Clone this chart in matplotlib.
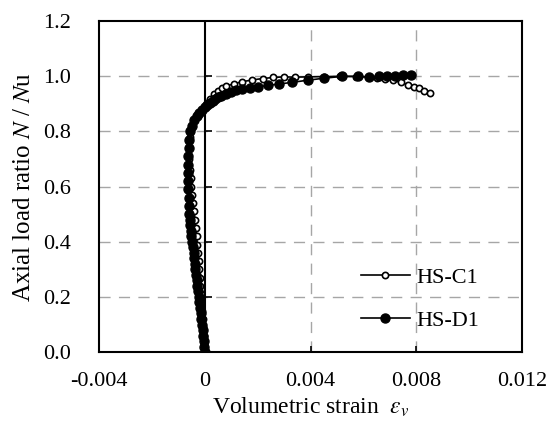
import numpy as np
import matplotlib
matplotlib.use("Agg")
import matplotlib.pyplot as plt

plt.rcParams['font.family'] = ['Liberation Serif', 'DejaVu Serif']
plt.rcParams['mathtext.fontset'] = 'stix'

# -------------------------------------------------------
# data
# -------------------------------------------------------
c1_strain = [0, -0.00002, -0.00004, -0.00006, -0.00008, -0.0001, -0.00012, -0.00014,
             -0.00016, -0.00018, -0.0002, -0.00022, -0.00025, -0.00028, -0.0003,
             -0.00033, -0.00036, -0.0004, -0.00043, -0.00046, -0.0005, -0.00053,
             -0.00056, -0.00058, -0.00058, -0.00055, -0.0005, -0.0004, -0.0003,
             -0.00015, 0.0, 0.0001, 0.0002, 0.00035, 0.0005, 0.00065, 0.0008, 0.0011,
             0.0014, 0.0018, 0.0022, 0.0026, 0.003, 0.0034, 0.0039, 0.0045, 0.0051,
             0.0057, 0.0062, 0.0065, 0.0068, 0.0071, 0.0074, 0.0077, 0.0079, 0.0081,
             0.0083, 0.0085]
c1_load = [0, 0.03, 0.06, 0.09, 0.12, 0.15, 0.18, 0.21, 0.24, 0.27, 0.3, 0.33, 0.36,
           0.39, 0.42, 0.45, 0.48, 0.51, 0.54, 0.57, 0.6, 0.63, 0.66, 0.7, 0.74, 0.78,
           0.81, 0.84, 0.86, 0.875, 0.89, 0.905, 0.918, 0.935, 0.948, 0.957, 0.964,
           0.973, 0.98, 0.987, 0.992, 0.996, 0.998, 0.997, 0.998, 0.999, 1.0, 0.999,
           0.997, 0.994, 0.99, 0.985, 0.978, 0.97, 0.963, 0.956, 0.948, 0.94]

d1_strain = [0, -0.00001, -0.00003, -0.00005, -0.00008, -0.0001, -0.00013, -0.00015,
             -0.00018, -0.0002, -0.00023, -0.00025, -0.00028, -0.0003, -0.00032,
             -0.00035, -0.00037, -0.0004, -0.00042, -0.00045, -0.00048, -0.0005,
             -0.00053, -0.00055, -0.00057, -0.00058, -0.0006, -0.00061, -0.00062,
             -0.00063, -0.00064, -0.00064, -0.00063, -0.00061, -0.00058, -0.00054,
             -0.00048, -0.0004, -0.0003, -0.0002, -0.0001, 0.0, 0.0001, 0.0002,
             0.0003, 0.0004, 0.0005, 0.0006, 0.0008, 0.001, 0.0012, 0.0014, 0.0017,
             0.002, 0.0024, 0.0028, 0.0033, 0.0039, 0.0045, 0.0052, 0.0058, 0.0062,
             0.0066, 0.0069, 0.0072, 0.0075, 0.0078]
d1_load = [0, 0.02, 0.04, 0.06, 0.08, 0.1, 0.12, 0.14, 0.16, 0.18, 0.2, 0.22, 0.24,
           0.26, 0.28, 0.3, 0.32, 0.34, 0.36, 0.38, 0.4, 0.42, 0.44, 0.46, 0.48, 0.5,
           0.53, 0.56, 0.59, 0.62, 0.65, 0.68, 0.71, 0.74, 0.77, 0.8, 0.82, 0.84,
           0.855, 0.868, 0.878, 0.888, 0.897, 0.905, 0.912, 0.918, 0.924, 0.929,
           0.937, 0.944, 0.949, 0.953, 0.958, 0.962, 0.967, 0.972, 0.978, 0.986,
           0.993, 1.0, 1.0, 0.998, 1.0, 1.001, 1.002, 1.003, 1.005]

xticks = [-0.004, 0, 0.004, 0.008, 0.012]
xtick_labels = ['-0.004', '0', '0.004', '0.008', '0.012']
yticks = [0.0, 0.2, 0.4, 0.6, 0.8, 1.0, 1.2]

fig = plt.figure(figsize=(5.55, 4.32), dpi=100)
ax = fig.add_axes([0.178, 0.185, 0.763, 0.766])

# gridlines (dashed gray) and the zero strain axis
for y in yticks[1:-1]:
    ax.axhline(y, color='#a6a6a6', lw=1.0, ls=(0, (8, 6)), zorder=1)
for x in [0.004, 0.008]:
    ax.axvline(x, color='#a6a6a6', lw=1.0, ls=(0, (8, 6)), zorder=1)
ax.axvline(0, color='black', lw=1.5, zorder=2)
ax.plot([0] * len(yticks), yticks, ls='none', marker=1, ms=5, mew=1.2,
        color='black', zorder=2)

ax.plot(c1_strain, c1_load, color='black', lw=1.2, marker='o', ms=4.5,
        mfc='white', mec='black', mew=1.2, label='HS-C1', zorder=3)
ax.plot(d1_strain, d1_load, color='black', lw=1.2, marker='o', ms=6.5,
        mfc='black', mec='black', label='HS-D1', zorder=3)

ax.set_xlim(-0.004, 0.012)
ax.set_ylim(0, 1.2)
ax.set_xticks(xticks)
ax.set_xticklabels(xtick_labels)
ax.set_yticks(yticks)
ax.set_yticklabels([f'{v:.1f}' for v in yticks])
ax.tick_params(axis='x', direction='in', length=4, width=1.2, pad=14, labelsize=16)
ax.tick_params(axis='y', length=0, pad=20, labelsize=16)
for s in ax.spines.values():
    s.set_linewidth(1.5)

ax.set_xlabel(r'Volumetric strain  $\varepsilon_v$', fontsize=17, labelpad=4)
ax.set_ylabel(r'Axial load ratio $N$ / $N$u', fontsize=18, labelpad=6)

ax.legend(loc='upper left', bbox_to_anchor=(0.593, 0.29), frameon=False,
          fontsize=16, handlelength=2.2, handletextpad=0.3, labelspacing=1.0,
          numpoints=1, borderpad=0)

plt.savefig('out.png', dpi=100)
